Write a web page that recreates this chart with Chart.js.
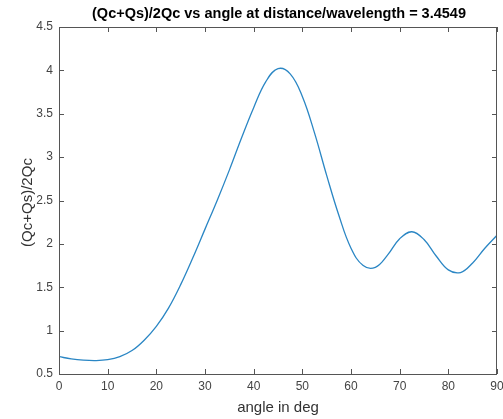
<!DOCTYPE html>
<html>
<head>
<meta charset="utf-8">
<script src="https://cdn.jsdelivr.net/npm/chart.js@4/dist/chart.umd.min.js"></script>
<style>
  html, body { margin: 0; padding: 0; background: #fff; }
  #wrap { width: 503px; height: 419px; }
</style>
</head>
<body>
<div id="wrap"><canvas id="chart" width="503" height="419"></canvas></div>
<script>
// angle in deg (x) and (Qc+Qs)/2Qc (y)
const angles = [0, 2.5, 5, 7.5, 10, 12.5, 15, 17.5, 20, 22.5, 25, 27.5, 30, 32.5, 35, 37.5,
  40, 42.5, 45, 47.5, 50, 52.5, 55, 57.5, 60, 62.5, 65, 67.5, 70, 72.5, 75, 77.5, 80, 82.5,
  85, 87.5, 90];
const ratio = [0.70, 0.675, 0.66, 0.655, 0.665, 0.70, 0.77, 0.89, 1.05, 1.26, 1.53, 1.84,
  2.17, 2.50, 2.85, 3.22, 3.57, 3.87, 4.02, 3.96, 3.70, 3.28, 2.79, 2.33, 1.95, 1.75, 1.73,
  1.87, 2.06, 2.14, 2.05, 1.86, 1.70, 1.67, 1.78, 1.95, 2.10];
const xTicks = [0, 10, 20, 30, 40, 50, 60, 70, 80, 90];
const yTicks = [0.5, 1, 1.5, 2, 2.5, 3, 3.5, 4, 4.5];

const titleText = "(Qc+Qs)/2Qc vs angle at distance/wavelength = 3.4549";
const xLabel = "angle in deg";
const yLabel = "(Qc+Qs)/2Qc";

const axisColor = "#555555";
const fontFam = "Liberation Sans, Arial, sans-serif";
const tickFont = { family: fontFam, size: 12 };

// matlab style box with inward ticks + titles
const matlabBox = {
  id: "matlabBox",
  afterDraw(chart) {
    const ctx = chart.ctx;
    const a = chart.chartArea;
    const xs = chart.scales.x;
    const ys = chart.scales.y;
    ctx.save();
    ctx.strokeStyle = axisColor;
    ctx.lineWidth = 1;
    ctx.strokeRect(a.left + 0.5, a.top + 0.5, a.right - a.left - 1, a.bottom - a.top);
    ctx.beginPath();
    xTicks.forEach((t) => {
      const px = Math.round(xs.getPixelForValue(t)) + 0.5;
      ctx.moveTo(px, a.bottom);
      ctx.lineTo(px, a.bottom - 5);
      ctx.moveTo(px, a.top);
      ctx.lineTo(px, a.top + 5);
    });
    yTicks.forEach((t) => {
      const py = Math.round(ys.getPixelForValue(t)) + 0.5;
      ctx.moveTo(a.left, py);
      ctx.lineTo(a.left + 5, py);
      ctx.moveTo(a.right, py);
      ctx.lineTo(a.right - 5, py);
    });
    ctx.stroke();

    // titles
    ctx.fillStyle = "#000";
    ctx.textAlign = "center";
    ctx.textBaseline = "middle";
    ctx.font = "bold 14.5px " + fontFam;
    ctx.fillText(titleText, 279, 14);
    ctx.fillStyle = "#333";
    ctx.font = "15px " + fontFam;
    ctx.fillText(xLabel, (a.left + a.right) / 2, 408);
    ctx.translate(28, (a.top + a.bottom) / 2 + 2);
    ctx.rotate(-Math.PI / 2);
    ctx.fillText(yLabel, 0, 0);
    ctx.restore();
  },
};

new Chart(document.getElementById("chart"), {
  type: "line",
  data: {
    datasets: [
      {
        data: angles.map((a, i) => ({ x: a, y: ratio[i] })),
        borderColor: "#2a86c4",
        borderWidth: 1.3,
        pointRadius: 0,
        tension: 0.4,
        fill: false,
      },
    ],
  },
  options: {
    responsive: false,
    devicePixelRatio: 1,
    animation: false,
    layout: { padding: { top: 27, right: 6, bottom: 0, left: 0 } },
    plugins: {
      legend: { display: false },
      tooltip: { enabled: false },
      title: { display: false },
    },
    scales: {
      x: {
        type: "linear",
        min: 0,
        max: 90,
        grid: { display: false, drawTicks: false },
        border: { display: false },
        afterBuildTicks: (s) => { s.ticks = xTicks.map((v) => ({ value: v })); },
        ticks: { color: "#444", font: tickFont, padding: 5, maxRotation: 0 },
        afterFit: (s) => {
          s.height = 45;
          s.paddingLeft = 0;
          s.paddingRight = 0;
        },
      },
      y: {
        type: "linear",
        min: 0.5,
        max: 4.5,
        grid: { display: false, drawTicks: false },
        border: { display: false },
        afterBuildTicks: (s) => { s.ticks = yTicks.map((v) => ({ value: v })); },
        ticks: { color: "#444", font: tickFont, padding: 6, callback: (v) => String(v) },
        afterFit: (s) => {
          s.width = 59;
          s.paddingTop = 0;
          s.paddingBottom = 0;
        },
      },
    },
  },
  plugins: [matlabBox],
});
</script>
</body>
</html>
